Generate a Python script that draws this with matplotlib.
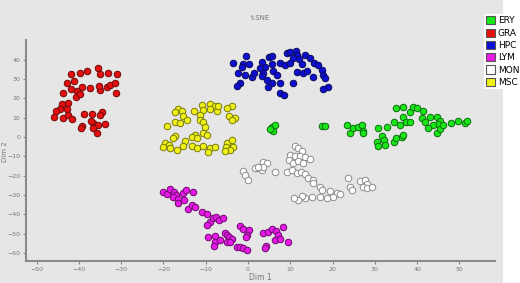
import matplotlib
matplotlib.use("Agg")
import matplotlib.pyplot as plt
from matplotlib.patches import Patch, Rectangle

# t-SNE coordinates
gra_x = [-41.8, -39.7, -38.1, -35.5, -35.0, -33.0, -31.1, -42.9, -41.1, -43.7, -41.8, -40.5,
         -39.3, -37.4, -35.0, -35.2, -33.4, -32.6, -31.4, -31.3, -40.7, -39.7, -44.1, -42.5,
         -44.4, -45.4, -42.9, -45.9, -43.7, -42.5, -41.7, -38.9, -37.0, -34.6, -35.0, -39.3,
         -39.6, -36.6, -35.4, -33.8, -36.7, -35.6, -37.2]
gra_y = [32.6, 33.3, 34.2, 35.6, 32.6, 33.3, 32.6, 27.8, 29.2, 22.6, 24.7, 24.0,
         25.7, 25.2, 24.4, 26.4, 25.7, 27.0, 27.8, 22.6, 20.6, 22.1, 17.4, 17.8,
         14.8, 13.6, 14.3, 10.5, 9.7, 11.4, 9.2, 11.9, 11.9, 13.1, 11.4, 5.7,
         4.5, 7.1, 6.2, 6.7, 4.5, 2.2, 8.5]

msc_x = [-11.0, -9.1, -7.8, -9.0, -10.6, -7.4, -7.0, -3.9, -4.9, -16.5, -17.3, -15.7,
         -15.3, -14.5, -12.7, -11.4, -11.4, -10.6, -17.3, -16.2, -19.1, -10.2, -4.6, -3.1,
         -3.9, -17.3, -17.7, -10.6, -9.8, -12.5, -13.3, -12.1, -14.9, -19.6, -18.8, -20.0,
         -18.4, -16.9, -15.3, -13.3, -12.1, -10.6, -9.1, -9.4, -7.8, -5.0, -3.9, -3.5,
         -5.2, -4.3, -5.4]
msc_y = [16.6, 16.9, 16.1, 14.5, 14.0, 13.5, 16.1, 16.1, 15.2, 14.8, 13.1, 13.6,
         10.9, 8.8, 13.5, 11.4, 8.8, 8.0, 8.0, 7.4, 5.7, 5.0, 10.9, 10.0,
         9.1, 0.5, -0.7, 2.2, 1.0, 1.0, 0.2, -0.7, -1.9, -2.9, -4.1, -5.0,
         -5.9, -6.7, -4.7, -4.7, -5.9, -4.7, -5.9, -7.6, -5.0, -3.3, -1.6, -5.0,
         -5.0, -6.7, -7.3]

hpc_x = [-0.5, -3.5, -1.1, 0.3, -1.5, -2.3, -0.7, 0.9, 1.3, -1.9, -2.5, 3.2,
         5.0, 5.6, 5.6, 4.0, 2.8, 3.6, 3.2, 4.4, 6.0, 6.8, 5.6, 4.8,
         7.6, 7.6, 8.4, 7.6, 8.7, 9.9, 9.1, 9.9, 11.3, 11.5, 10.7, 12.1,
         13.5, 14.7, 15.6, 16.6, 17.4, 12.7, 11.5, 13.1, 13.9, 15.4, 17.8, 18.2,
         10.7, 19.0, 17.8]
hpc_y = [42.0, 38.5, 37.8, 37.8, 36.4, 33.0, 32.1, 31.3, 33.3, 27.8, 26.4, 39.0,
         41.6, 42.0, 37.8, 36.4, 35.6, 33.0, 31.6, 29.5, 34.4, 32.1, 27.8, 26.1,
         27.8, 22.6, 21.8, 38.2, 37.3, 38.2, 43.4, 44.2, 44.6, 42.5, 40.8, 40.2,
         42.5, 40.8, 38.5, 37.3, 34.7, 37.8, 33.8, 33.0, 34.4, 31.3, 32.1, 30.4,
         27.8, 26.1, 24.7]

ery_x = [5.6, 6.4, 5.8, 5.2, 17.4, 18.2, 23.3, 24.1, 24.9, 26.1, 26.9, 27.3,
         27.1, 30.8, 32.8, 34.4, 35.9, 36.7, 37.3, 38.3, 35.1, 36.7, 38.3, 38.9,
         39.9, 41.3, 43.0, 41.1, 41.8, 44.6, 45.4, 45.0, 43.8, 42.6, 44.6, 45.4,
         46.2, 48.1, 49.7, 51.3, 51.7, 31.6, 32.1, 30.4, 30.8, 32.4, 34.4, 35.1,
         36.3, 36.7]
ery_y = [5.4, 6.2, 3.3, 4.0, 5.7, 5.7, 6.2, 2.2, 4.5, 5.4, 6.2, 3.3,
         2.2, 4.5, 5.4, 7.9, 6.2, 10.5, 7.9, 7.9, 14.9, 15.4, 13.1, 15.7,
         14.9, 13.6, 10.5, 9.7, 7.9, 10.5, 8.5, 6.7, 6.2, 4.5, 2.2, 4.0,
         6.2, 7.1, 8.5, 7.1, 8.5, 0.5, -1.6, -2.4, -4.7, -4.1, -2.4, -0.7,
         0.2, 1.0]

mon_x = [11.1, 11.9, 12.7, 9.9, 11.1, 12.3, 13.5, 14.7, 9.8, 10.7, 11.9, 13.1,
         3.6, 4.4, 2.0, 3.2, 3.5, -1.1, -0.7, 0.1, 6.4, 9.1, 10.3, 11.5,
         12.5, 13.5, 14.3, 15.4, 15.4, 17.0, 17.4, 19.4, 21.0, 21.7, 20.2, 18.6,
         17.0, 15.1, 13.5, 12.7, 11.9, 10.9, 23.7, 24.1, 24.7, 26.5, 27.7, 28.1,
         27.1, 28.1, 29.2, 1.7, 2.4]
mon_y = [-4.7, -5.9, -7.1, -9.3, -9.8, -9.8, -10.5, -11.6, -11.9, -13.3, -12.3, -13.3,
         -12.8, -13.6, -16.2, -16.8, -15.4, -17.4, -19.7, -22.0, -18.0, -18.0, -16.8, -18.8,
         -18.0, -19.2, -21.4, -22.3, -24.0, -26.1, -27.5, -27.8, -28.8, -29.7, -30.9, -31.8,
         -30.9, -31.3, -31.8, -30.6, -32.6, -31.8, -21.4, -25.7, -27.5, -22.6, -22.3, -24.4,
         -25.7, -26.6, -26.1, -16.2, -15.4]

lym_x = [-20.0, -19.2, -18.4, -17.5, -17.0, -17.7, -16.5, -16.5, -15.3, -14.7, -15.1, -12.9,
         -14.1, -13.3, -12.5, -10.9, -9.8, -9.1, -9.8, -8.2, -7.6, -6.8, -6.0, -9.4,
         -7.8, -7.8, -8.0, -6.6, -5.4, -5.0, -4.4, -3.9, -5.0, -4.3, -2.7, -1.9,
         -1.2, -0.3, -1.9, -1.1, 0.3, -0.3, -0.5, 3.6, 4.8, 5.6, 6.6, 7.2,
         6.4, 7.6, 8.2, 9.5, 4.3, 4.0]
lym_y = [-28.3, -29.5, -27.1, -28.3, -30.0, -31.3, -32.3, -34.0, -28.8, -27.5, -32.6, -28.3,
         -37.0, -35.2, -36.1, -38.7, -39.9, -43.9, -45.6, -42.1, -41.6, -43.0, -42.1, -51.6,
         -51.3, -54.2, -56.5, -53.4, -49.6, -50.8, -52.0, -53.0, -54.2, -54.2, -57.2, -57.2,
         -57.7, -58.5, -46.1, -47.8, -48.2, -50.8, -52.0, -49.9, -49.0, -47.8, -48.5, -50.8,
         -53.4, -53.0, -46.8, -54.2, -56.5, -57.7]

groups = ["ERY", "GRA", "HPC", "LYM", "MON", "MSC"]
colors = {"ERY": "#19e619", "GRA": "#e60f0f", "HPC": "#0f0fd2",
          "LYM": "#e619e6", "MON": "#ffffff", "MSC": "#f0f019"}
edges = {"ERY": "#0a6e0a", "GRA": "#6e0a0a", "HPC": "#0a0a5a",
         "LYM": "#6e0a6e", "MON": "#8c8c8c", "MSC": "#7a7a0a"}
xs = {"ERY": ery_x, "GRA": gra_x, "HPC": hpc_x, "LYM": lym_x, "MON": mon_x, "MSC": msc_x}
ys = {"ERY": ery_y, "GRA": gra_y, "HPC": hpc_y, "LYM": lym_y, "MON": mon_y, "MSC": msc_y}

bg = "#e6e6e6"
fig = plt.figure(figsize=(5.2, 2.83), dpi=100, facecolor="white")
# grey panel behind the plot (legend sits on white at the right)
panel = Rectangle((0, 0), 503 / 520, 1, transform=fig.transFigure,
                  facecolor=bg, edgecolor="none", zorder=-10)
fig.add_artist(panel)

ax = fig.add_axes([26 / 520, 22 / 283, 469 / 520, 221 / 283])
ax.set_facecolor(bg)
ax.set_zorder(1)
for g in groups:
    ax.scatter(xs[g], ys[g], s=22, c=colors[g], edgecolors=edges[g], linewidths=0.7, zorder=3)

ax.set_xlim(-52.5, 58.4)
ax.set_ylim(-64.2, 50.3)
ax.set_xticks(range(-50, 51, 10))
ax.set_yticks(range(-60, 41, 10))
for s in ["top", "right"]:
    ax.spines[s].set_visible(False)
for s in ["left", "bottom"]:
    ax.spines[s].set_color("#8a8a8a")
    ax.spines[s].set_linewidth(1.5)
ax.tick_params(labelsize=4.5, colors="#8a8a8a", labelcolor="#777777", length=2, width=0.8, pad=2)

fig.text(260 / 520, 1 - 18 / 283, "t-SNE", fontsize=5, color="#777777", ha="center", va="center")
fig.text(260 / 520, 1 - 277 / 283, "Dim 1", fontsize=5.5, color="#777777", ha="center", va="center")
fig.text(5 / 520, 1 - 152 / 283, "Dim 2", fontsize=5, color="#777777", ha="center", va="center",
         rotation=90)

handles = [Patch(facecolor=colors[g], edgecolor="#555555", linewidth=0.8) for g in groups]
leg = fig.legend(handles, groups, loc="upper left", bbox_to_anchor=(484 / 520, 1 - 14 / 283),
                 fontsize=6.5, frameon=True, handlelength=1.0, handleheight=1.0,
                 handletextpad=0.3, labelspacing=0.35, borderpad=0.25, borderaxespad=0)
leg.get_frame().set_facecolor("white")
leg.get_frame().set_edgecolor("none")
leg.get_frame().set_alpha(1)

fig.savefig("out.png", dpi=100, facecolor=fig.get_facecolor())
